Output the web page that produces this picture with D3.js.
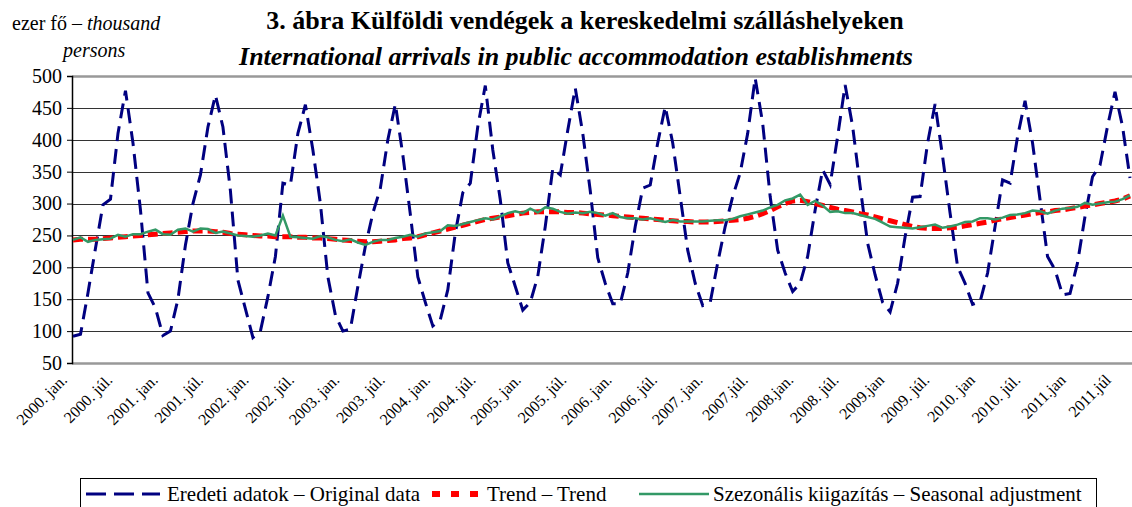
<!DOCTYPE html>
<html>
<head>
<meta charset="utf-8">
<script src="https://cdn.jsdelivr.net/npm/d3@7"></script>
<style>
  body { margin: 0; background: #fff; }
  svg text { font-family: "Liberation Serif", "Times New Roman", serif; }
</style>
</head>
<body>
<div id="chart"></div>
<script>
// monthly values, 2000 Jan .. 2011 Oct (thousand persons)
const originalData = [
  92, 95, 160, 230, 298, 307, 410, 477, 395, 290, 160, 136,
  93, 100, 150, 235, 300, 345, 420, 470, 420, 320, 180, 135,
  90, 100, 154, 217, 332, 329, 410, 455, 384, 300, 185, 125,
  100, 103, 170, 233, 285, 324, 400, 456, 376, 283, 185, 145,
  108, 118, 165, 254, 317, 332, 421, 485, 384, 306, 207, 170,
  133, 145, 186, 264, 355, 345, 415, 481, 410, 320, 215, 175,
  143, 143, 191, 264, 324, 329, 395, 452, 395, 311, 227, 175,
  140, 145, 207, 264, 311, 348, 410, 497, 426, 311, 227, 191,
  162, 175, 217, 290, 353, 330, 405, 486, 421, 327, 238, 188,
  145, 130, 175, 248, 310, 311, 395, 456, 374, 285, 201, 175,
  142, 146, 191, 264, 337, 332, 405, 461, 395, 306, 217, 196,
  157, 159, 207, 280, 342, 360, 421, 475, 421, 340
];

const trendData = [
  243, 244, 244, 244, 245, 246, 247, 248, 249, 250, 251, 252,
  253, 254, 255, 256, 257, 257, 257, 256, 255, 253, 252, 251,
  250, 249, 249, 248, 248, 248, 247, 247, 246, 246, 245, 244,
  243, 242, 241, 240, 240, 241, 242, 243, 245, 246, 248, 251,
  254, 257, 260, 263, 266, 269, 272, 275, 277, 279, 281, 283,
  285, 286, 287, 287, 287, 287, 286, 286, 285, 284, 283, 282,
  281, 280, 279, 278, 277, 276, 275, 274, 273, 272, 272, 271,
  271, 271, 272, 273, 274, 275, 277, 280, 284, 289, 295, 300,
  304, 305, 303, 300, 297, 294, 291, 289, 287, 284, 282, 279,
  276, 273, 270, 267, 264, 262, 261, 261, 261, 262, 263, 265,
  267, 269, 271, 274, 276, 278, 280, 282, 284, 286, 287, 289,
  290, 292, 294, 296, 298, 300, 302, 304, 307, 312
];

const seasonalData = [
  243, 247, 240, 243, 244, 245, 251, 248, 252, 252, 256, 259,
  252, 251, 259, 261, 256, 261, 260, 254, 256, 253, 250, 249,
  248, 250, 253, 250, 281, 248, 247, 246, 245, 249, 247, 243,
  241, 244, 239, 235, 240, 243, 243, 246, 248, 251, 248, 253,
  255, 257, 266, 265, 268, 271, 274, 277, 275, 280, 285, 288,
  285, 292, 286, 294, 292, 287, 284, 286, 285, 287, 285, 281,
  285, 279, 277, 277, 275, 277, 274, 271, 274, 272, 272, 272,
  272, 273, 274, 274, 276, 280, 283, 286, 289, 294, 298, 305,
  308, 314, 298, 304, 297, 287, 288, 285, 285, 282, 279, 276,
  270, 264, 263, 262, 261, 263, 265, 267, 262, 264, 267, 271,
  272, 277, 277, 275, 278, 282, 283, 285, 289, 288, 284, 289,
  292, 293, 295, 301, 298, 300, 302, 303, 307, 313
];

// one label every 6 months, as printed
const xTickLabels = [
  "2000. jan.", "2000. júl.", "2001. jan.", "2001. júl.", "2002. jan.", "2002. júl.",
  "2003. jan.", "2003. júl.", "2004. jan.", "2004. júl.", "2005. jan.", "2005. júl.",
  "2006. jan.", "2006. júl.", "2007. jan.", "2007.júl.", "2008.jan.", "2008. júl.",
  "2009.jan", "2009. júl.", "2010. jan", "2010. júl.", "2011.jan", "2011.júl"
];

const yTicks = [50, 100, 150, 200, 250, 300, 350, 400, 450, 500];

const width = 1132;
const height = 507;
const plot = { left: 72, right: 1132, top: 76, bottom: 363 };
const serif = '"Liberation Serif", "Times New Roman", serif';

const svg = d3.select('#chart')
  .append('svg')
  .attr('width', width)
  .attr('height', height);

const months = d3.range(originalData.length);

const xScale = d3.scalePoint()
  .domain(months)
  .range([73, 1130]);

// label slots are spread a little wider than the data points
const labelScale = d3.scaleLinear()
  .domain([0, xTickLabels.length - 1])
  .range([68, 1112]);

const yScale = d3.scaleLinear()
  .domain([50, 500])
  .range([plot.bottom, plot.top]);

// titles
svg.append('text')
  .attr('x', 585)
  .attr('y', 29)
  .attr('text-anchor', 'middle')
  .attr('font-family', serif)
  .style('font-size', '26px')
  .style('font-weight', 'bold')
  .text('3. ábra Külföldi vendégek a kereskedelmi szálláshelyeken');

svg.append('text')
  .attr('x', 576)
  .attr('y', 65)
  .attr('text-anchor', 'middle')
  .attr('font-family', serif)
  .style('font-size', '26px')
  .style('font-weight', 'bold')
  .style('font-style', 'italic')
  .text('International arrivals in public accommodation establishments');

const unit = svg.append('text')
  .attr('x', 12)
  .attr('y', 30)
  .attr('font-family', serif)
  .style('font-size', '20px');
unit.append('tspan').text('ezer fő – ');
unit.append('tspan').style('font-style', 'italic').text('thousand');

svg.append('text')
  .attr('x', 63)
  .attr('y', 57)
  .attr('font-family', serif)
  .style('font-size', '20px')
  .style('font-style', 'italic')
  .text('persons');

// gridlines
svg.append('g')
  .selectAll('line')
  .data(yTicks)
  .enter().append('line')
  .attr('x1', plot.left)
  .attr('x2', plot.right)
  .attr('y1', d => Math.round(yScale(d)) + 0.5)
  .attr('y2', d => Math.round(yScale(d)) + 0.5)
  .attr('stroke', d => (d === 50 || d === 500) ? '#999' : '#333')
  .attr('stroke-width', d => (d === 50 || d === 500) ? 2.5 : 1);

// y axis
const yAxis = svg.append('g')
  .attr('transform', `translate(${plot.left},0)`)
  .call(d3.axisLeft(yScale).tickValues(yTicks).tickSize(5).tickPadding(5));
yAxis.attr('font-family', serif).attr('font-size', 20);
yAxis.select('.domain').attr('stroke', '#000').attr('stroke-width', 1.5);
yAxis.selectAll('.tick line').attr('stroke', '#000');
yAxis.selectAll('.tick text')
  .attr('font-family', serif)
  .style('font-size', '20px')
  .attr('fill', '#000');

// x labels, rotated
svg.append('g')
  .selectAll('text')
  .data(xTickLabels)
  .enter().append('text')
  .attr('transform', (d, i) => `translate(${labelScale(i)},${plot.bottom + 18}) rotate(-45)`)
  .attr('text-anchor', 'end')
  .attr('font-family', serif)
  .style('font-size', '16px')
  .text(d => d);

svg.append('clipPath').attr('id', 'plotClip')
  .append('rect')
  .attr('x', plot.left)
  .attr('y', 0)
  .attr('width', plot.right - plot.left)
  .attr('height', plot.bottom);

const line = d3.line()
  .x((d, i) => xScale(i))
  .y(d => yScale(d));

const lines = svg.append('g').attr('clip-path', 'url(#plotClip)');

lines.append('path')
  .datum(originalData)
  .attr('fill', 'none')
  .attr('stroke', '#000080')
  .attr('stroke-width', 3)
  .attr('stroke-dasharray', '15,8')
  .attr('d', line);

lines.append('path')
  .datum(trendData)
  .attr('fill', 'none')
  .attr('stroke', '#ff0000')
  .attr('stroke-width', 5)
  .attr('stroke-dasharray', '10,5')
  .attr('d', line);

lines.append('path')
  .datum(seasonalData)
  .attr('fill', 'none')
  .attr('stroke', '#339966')
  .attr('stroke-width', 2.5)
  .attr('d', line);

// legend
const legend = svg.append('g');
legend.append('rect')
  .attr('x', 80.5)
  .attr('y', 478.5)
  .attr('width', 1016)
  .attr('height', 40)
  .attr('fill', '#fff')
  .attr('stroke', '#000')
  .attr('stroke-width', 1);

const legendItems = [
  { label: 'Eredeti adatok – Original data', x0: 86, x1: 160, tx: 167, color: '#000080', w: 3, dash: '20,8' },
  { label: 'Trend – Trend', x0: 432, x1: 478, tx: 487, color: '#ff0000', w: 6, dash: '8,11' },
  { label: 'Szezonális kiigazítás – Seasonal adjustment', x0: 639, x1: 709, tx: 713, color: '#339966', w: 2.5, dash: null }
];

legendItems.forEach(it => {
  legend.append('line')
    .attr('x1', it.x0).attr('x2', it.x1)
    .attr('y1', 494).attr('y2', 494)
    .attr('stroke', it.color)
    .attr('stroke-width', it.w)
    .attr('stroke-dasharray', it.dash);
  legend.append('text')
    .attr('x', it.tx)
    .attr('y', 501)
    .attr('font-family', serif)
    .style('font-size', '21px')
    .text(it.label);
});
</script>
</body>
</html>
